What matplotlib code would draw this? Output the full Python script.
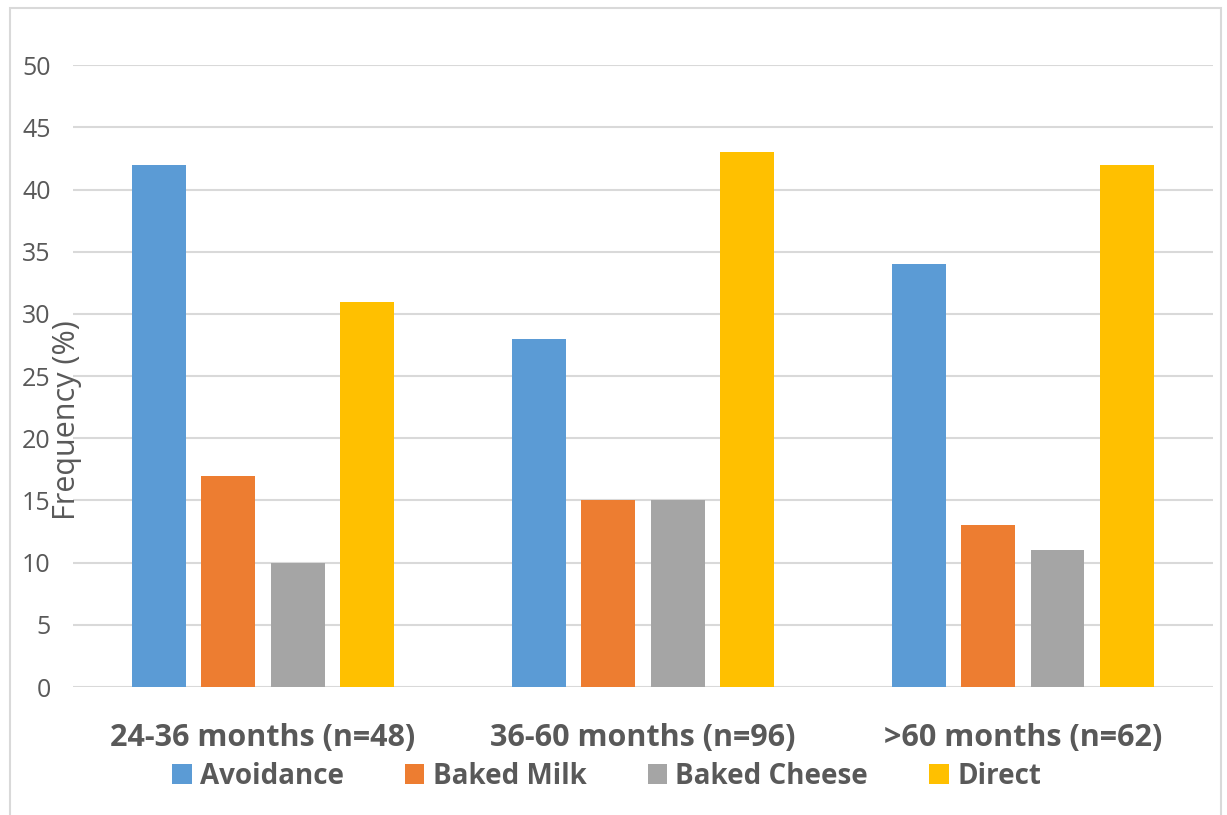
import matplotlib.pyplot as plt
import numpy as np
from matplotlib.patches import Rectangle

groups = ["24-36 months (n=48)", "36-60 months (n=96)", ">60 months (n=62)"]
series = ["Avoidance", "Baked Milk", "Baked Cheese", "Direct"]
avoidance = [42, 28, 34]
baked_milk = [17, 15, 13]
baked_cheese = [10, 15, 11]
direct = [31, 43, 42]
colors = ["#5B9BD5", "#ED7D31", "#A5A5A5", "#FFC000"]

text_grey = "#595959"
plt.rcParams["font.family"] = ["Open Sans", "DejaVu Sans"]

fig = plt.figure(figsize=(12.27, 8.15), dpi=100)
ax = fig.add_axes([0.0595, 0.157, 0.929, 0.763])

x = np.arange(len(groups))
width = 0.142
step = 0.182
values = [avoidance, baked_milk, baked_cheese, direct]
for i, (name, vals) in enumerate(zip(series, values)):
    ax.bar(x + (i - 1.5) * step, vals, width, color=colors[i], label=name, zorder=3)

ax.set_xlim(-0.5, 2.5)
ax.set_ylim(0, 50)
ax.set_yticks(range(0, 51, 5))
ax.yaxis.grid(True, color="#D9D9D9", linewidth=1.5, zorder=0)
for s in ax.spines.values():
    s.set_visible(False)
ax.tick_params(axis="y", length=0, pad=16, labelsize=18, labelcolor=text_grey)
ax.tick_params(axis="x", length=0, pad=26)
ax.set_xticks(x)
ax.set_xticklabels(groups, fontsize=22, fontweight="bold", color=text_grey)

fig.text(0.055, 0.485, "Frequency (%)", rotation=90, ha="center", va="center",
         fontsize=22, color=text_grey)

ax.legend(loc="upper center", bbox_to_anchor=(0.468, -0.08), ncol=4, frameon=False,
          handlelength=0.7, handleheight=0.7, handletextpad=0.3,
          columnspacing=2.2, labelcolor=text_grey, prop={"weight": "bold", "size": 20})

fig.patches.append(Rectangle((0.008, -0.01), 0.987, 1.0, transform=fig.transFigure,
                             fill=False, edgecolor="#D9D9D9", linewidth=1.5))

fig.savefig("out.png", dpi=100)
